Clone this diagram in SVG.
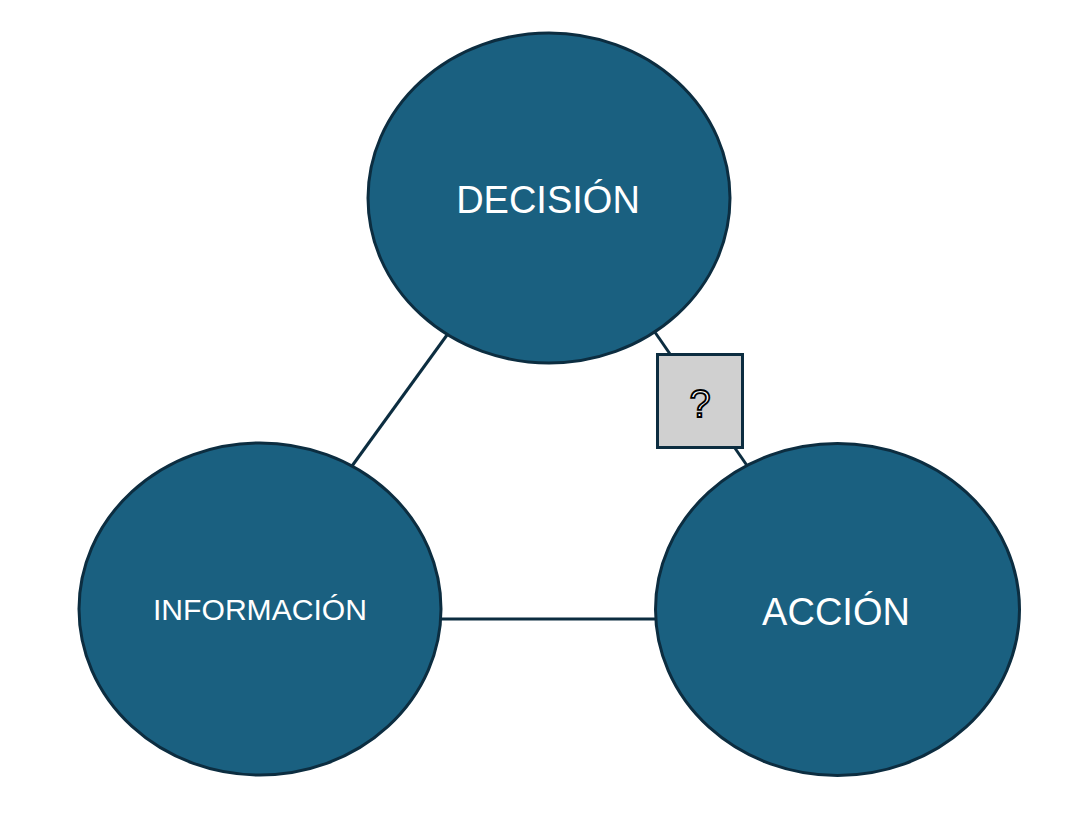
<svg xmlns="http://www.w3.org/2000/svg" width="1088" height="824" viewBox="0 0 1088 824">
<style>
.node{fill:#1a6080;stroke:#0c2d40;stroke-width:3}
.lbl{fill:#ffffff;font-family:"Liberation Sans",Arial,sans-serif;text-anchor:middle}
.conn{stroke:#0c2d40;stroke-width:3;fill:none}
</style>
<rect width="1088" height="824" fill="#ffffff"/>
<g id="connectors">
<line class="conn" x1="447" y1="335" x2="352" y2="466"/>
<line class="conn" x1="441" y1="619" x2="656" y2="619"/>
<line class="conn" x1="650" y1="325" x2="748" y2="467"/>
</g>
<g id="decision">
<ellipse class="node" cx="549" cy="198" rx="181" ry="165"/>
<text class="lbl" x="548" y="213" font-size="38">DECISIÓN</text>
</g>
<g id="informacion">
<ellipse class="node" cx="260" cy="609" rx="181" ry="166"/>
<text class="lbl" x="260" y="620" font-size="29" textLength="214" lengthAdjust="spacingAndGlyphs">INFORMACIÓN</text>
</g>
<g id="accion">
<ellipse class="node" cx="837.5" cy="609.5" rx="182" ry="166"/>
<text class="lbl" x="836" y="625" font-size="38">ACCIÓN</text>
</g>
<g id="question">
<rect x="657.5" y="354.5" width="85" height="93" fill="#d0d0d0" stroke="#0c2d40" stroke-width="3"/>
<text x="700" y="417" font-family="'Liberation Sans',Arial,sans-serif" font-size="38" text-anchor="middle" fill="#ffffff" stroke="#000000" stroke-width="1.8">?</text>
</g>
</svg>
